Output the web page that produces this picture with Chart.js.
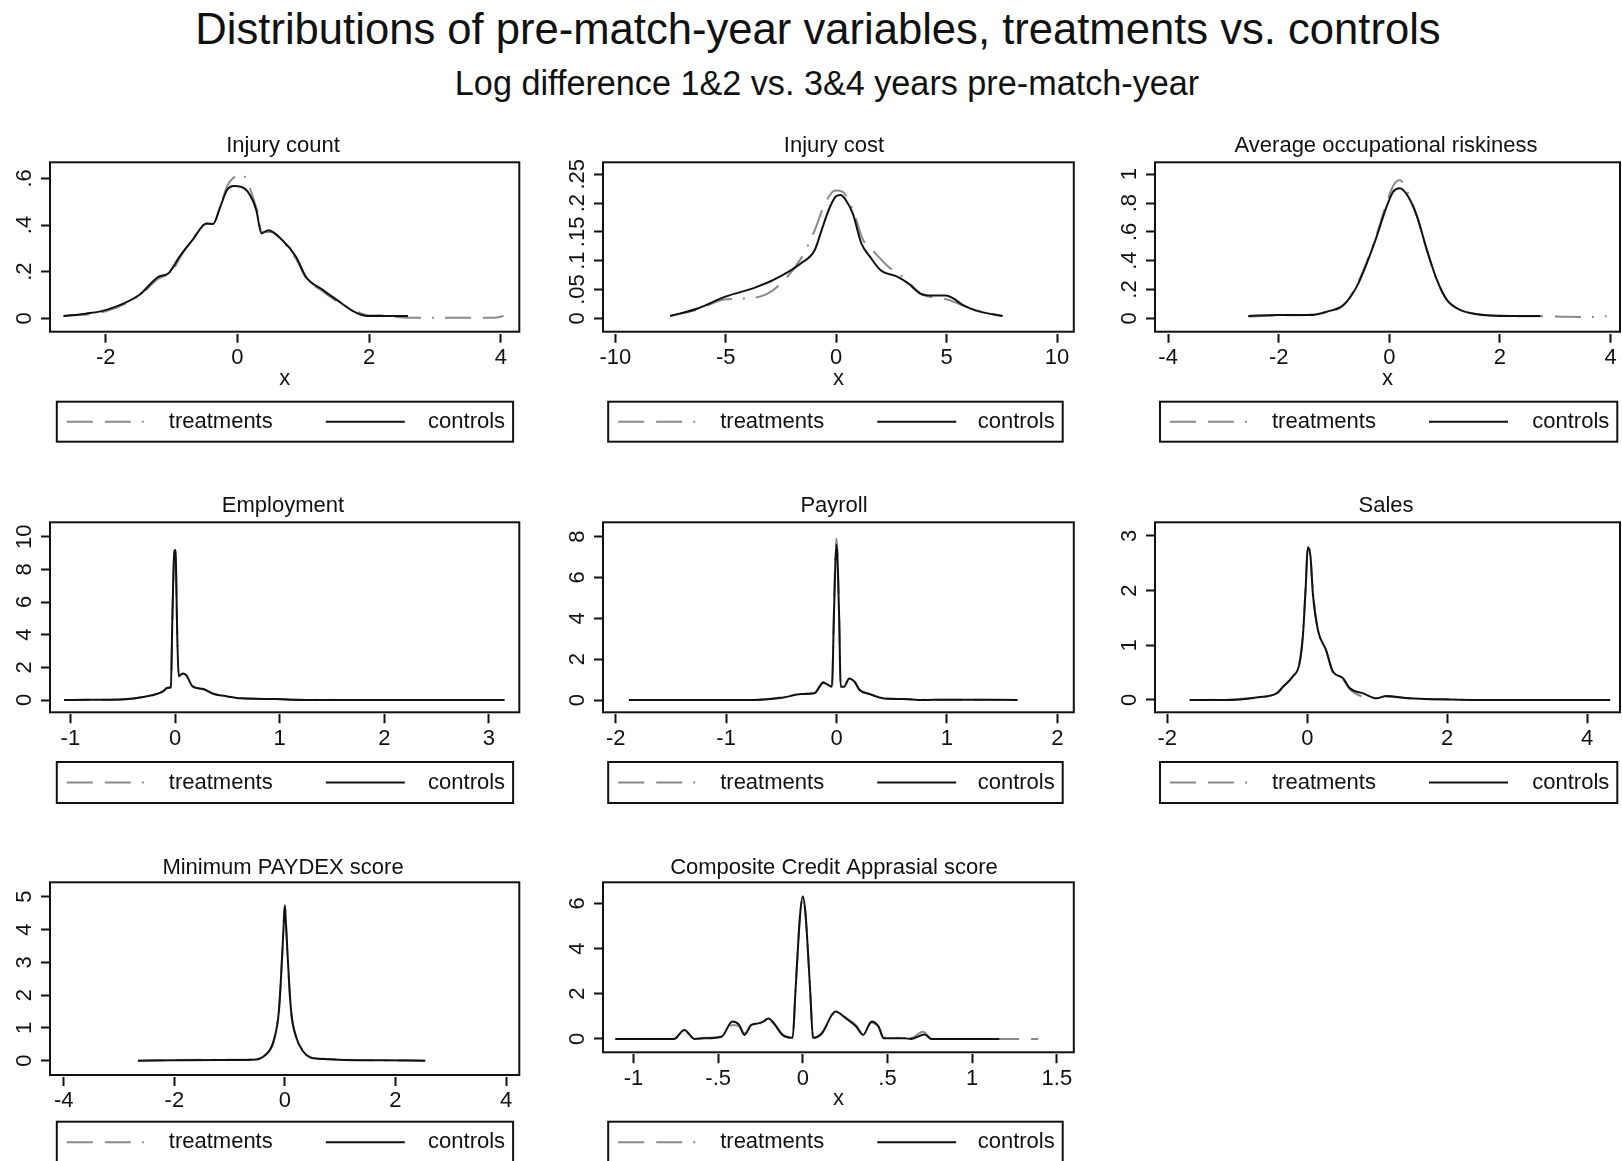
<!DOCTYPE html>
<html>
<head>
<meta charset="utf-8">
<script src="https://cdn.jsdelivr.net/npm/chart.js@4.4.1/dist/chart.umd.min.js"></script>
<style>
  body { margin: 0; background: #fff; width: 1622px; height: 1161px; overflow: hidden; position: relative;
         font-family: "Liberation Sans", Arial, sans-serif; color: #111; }
  canvas { position: absolute; }
  .head { position: absolute; width: 1600px; text-align: center; white-space: nowrap; }
  #title { left: 18px; top: 8px; font-size: 43.6px; line-height: 43.6px; }
  #subtitle { left: 27px; top: 66px; font-size: 34.2px; line-height: 34.2px; }
</style>
</head>
<body>
<div id="title" class="head">Distributions of pre-match-year variables, treatments vs. controls</div>
<div id="subtitle" class="head">Log difference 1&amp;2 vs. 3&amp;4 years pre-match-year</div>
<canvas id="p1"></canvas><canvas id="p2"></canvas><canvas id="p3"></canvas>
<canvas id="p4"></canvas><canvas id="p5"></canvas><canvas id="p6"></canvas>
<canvas id="p7"></canvas><canvas id="p8"></canvas>
<script>
  // ---- densities ----
  // Injury count
  const cntCtlX = [-2.64,-2.3,-1.99,-1.49,-1.2,-1.045,-0.88,-0.68,-0.47,-0.37,-0.26,-0.157,-0.052,0.052,0.157,0.287,0.365,0.47,0.68,0.89,1.04,1.3,1.51,1.77,1.98,2.59];
  const cntCtlY = [0.01,0.02,0.036,0.1,0.178,0.193,0.264,0.336,0.407,0.404,0.478,0.55,0.567,0.564,0.543,0.464,0.364,0.378,0.336,0.264,0.178,0.121,0.079,0.029,0.01,0.01];
  const cntTrtX = [-2.64,-2.0,-1.5,-1.2,-1.0,-0.85,-0.68,-0.47,-0.37,-0.25,-0.15,-0.05,0.05,0.13,0.2,0.3,0.37,0.5,0.7,0.9,1.05,1.3,1.5,1.8,2.0,2.14,2.6,3.0,3.5,3.9,4.04];
  const cntTrtY = [0.01,0.03,0.095,0.17,0.2,0.27,0.34,0.405,0.405,0.49,0.57,0.605,0.62,0.6,0.55,0.46,0.37,0.37,0.325,0.25,0.17,0.115,0.075,0.03,0.012,0.013,0.002,0.002,0.002,0.002,0.01];
  // Injury cost
  const costCtlX = [-7.52,-6.27,-5.02,-3.77,-2.84,-1.59,-0.97,-0.66,-0.34,-0.03,0.2,0.44,0.75,1.14,1.53,2.0,2.78,3.25,3.87,4.34,4.96,5.28,5.74,6.52,7.54];
  const costCtlY = [0.004,0.017,0.0375,0.052,0.0665,0.0955,0.1186,0.153,0.188,0.211,0.214,0.205,0.182,0.13,0.107,0.084,0.072,0.061,0.0417,0.0394,0.0394,0.035,0.023,0.0115,0.004];
  const costTrtX = [-7.5,-6.3,-5.0,-4.24,-3.15,-2.52,-1.59,-0.97,-0.5,-0.03,0.28,0.75,1.22,1.6,2.38,3.1,3.87,4.5,5.0,5.5,6.5,7.5];
  const costTrtY = [0.004,0.015,0.033,0.034,0.042,0.06,0.104,0.153,0.2,0.222,0.22,0.188,0.136,0.12,0.089,0.069,0.042,0.036,0.033,0.026,0.012,0.004];
  // Average occupational riskiness
  const riskCtlX = [-2.55,-2.04,-1.43,-1.13,-0.83,-0.59,-0.41,-0.23,-0.05,0.07,0.19,0.34,0.5,0.68,0.86,1.04,1.28,1.58,2.18,2.73];
  const riskCtlY = [0.016,0.023,0.023,0.046,0.092,0.22,0.38,0.567,0.775,0.88,0.903,0.845,0.706,0.474,0.266,0.127,0.058,0.028,0.016,0.016];
  const riskTrtX = [-2.55,-2.04,-1.43,-1.13,-0.83,-0.59,-0.41,-0.23,-0.05,0.07,0.19,0.3,0.5,0.68,0.86,1.04,1.28,1.58,2.18,2.73,3.2,3.6,3.93];
  const riskTrtY = [0.012,0.02,0.025,0.045,0.09,0.23,0.39,0.58,0.8,0.92,0.96,0.9,0.71,0.47,0.26,0.13,0.06,0.03,0.015,0.015,0.01,0.008,0.015];
  // Employment
  const empCtlX = [-1.06,-0.8,-0.52,-0.29,-0.12,-0.07,-0.04,-0.025,-0.008,0,0.008,0.02,0.035,0.073,0.106,0.17,0.27,0.37,0.5,0.63,0.96,1.1,1.62,2.5,3.15];
  const empCtlY = [0,0.01,0.03,0.2,0.51,0.75,0.78,5.2,9.0,9.18,8.6,4.2,1.45,1.63,1.53,0.82,0.67,0.37,0.22,0.1,0.06,0.02,0,0,0];
  const empTrtX = [-1.06,-0.8,-0.52,-0.29,-0.12,-0.07,-0.04,-0.025,-0.008,0,0.008,0.02,0.035,0.073,0.106,0.17,0.27,0.37,0.5,0.63,0.96,1.1,1.75];
  const empTrtY = [0,0.01,0.03,0.19,0.5,0.74,0.8,5.0,8.9,9.1,8.5,4.4,1.5,1.6,1.5,0.85,0.65,0.38,0.2,0.1,0.05,0.03,0];
  // Payroll
  const payCtlX = [-1.88,-1.2,-0.79,-0.48,-0.32,-0.2,-0.119,-0.072,-0.041,-0.025,-0.01,0,0.01,0.025,0.037,0.068,0.115,0.162,0.209,0.3,0.43,0.61,0.78,1.0,1.64];
  const payCtlY = [0,0,0,0.13,0.29,0.33,0.85,0.73,0.65,3.8,6.8,7.6,6.8,3.8,0.65,0.65,1.06,0.9,0.49,0.29,0.08,0.05,0,0.02,0];
  const payTrtX = payCtlX;
  const payTrtY = [0,0,0.01,0.14,0.3,0.35,0.9,0.75,0.6,4.0,7.1,7.9,7.0,3.9,0.7,0.7,1.1,0.95,0.5,0.3,0.1,0.05,0.02,0.02,0];
  // Sales
  const salesCtlX = [-1.68,-1.08,-0.7,-0.44,-0.35,-0.206,-0.11,-0.063,-0.024,0.009,0.047,0.08,0.152,0.27,0.367,0.51,0.605,0.8,0.99,1.13,1.46,1.94,2.42,3.5,4.33];
  const salesCtlY = [0,0,0.05,0.12,0.24,0.43,0.67,1.16,2.01,2.8,2.62,1.95,1.28,0.91,0.52,0.4,0.22,0.12,0.03,0.073,0.03,0.012,0,0,0];
  const salesTrtX = [-1.68,-1.08,-0.7,-0.44,-0.35,-0.206,-0.11,-0.063,-0.024,0.009,0.047,0.08,0.152,0.27,0.367,0.51,0.605,0.8,0.99,1.13,1.46,1.94,2.44];
  const salesTrtY = [0,0.01,0.05,0.11,0.23,0.44,0.7,1.2,2.05,2.85,2.6,2.0,1.3,0.9,0.5,0.38,0.2,0.06,0.04,0.06,0.03,0.01,0];
  // Minimum PAYDEX score
  const pdxCtlX = [-2.66,-2.0,-1.2,-0.6,-0.355,-0.2,-0.107,-0.045,-0.015,0,0.015,0.05,0.11,0.2,0.33,0.45,0.7,1.08,1.8,2.54];
  const pdxCtlY = [0,0.01,0.02,0.03,0.17,0.63,1.55,3.37,4.4,4.72,4.3,3.17,1.55,0.74,0.28,0.11,0.05,0.02,0.01,0];
  const pdxTrtX = pdxCtlX;
  const pdxTrtY = [0,0.02,0.03,0.04,0.18,0.6,1.6,3.4,4.5,4.75,4.35,3.1,1.5,0.72,0.3,0.1,0.06,0.03,0.01,0];
  // Composite Credit Apprasial score
  const ccaCtlX = [-1.107,-0.9,-0.76,-0.7,-0.64,-0.58,-0.48,-0.416,-0.376,-0.345,-0.305,-0.264,-0.233,-0.203,-0.17,-0.12,-0.06,-0.045,-0.03,-0.015,0,0.015,0.03,0.045,0.06,0.11,0.193,0.254,0.315,0.356,0.406,0.447,0.478,0.6,0.64,0.72,0.76,1.0,1.16];
  const ccaCtlY = [0,0,0,0.4,0,0.03,0.1,0.77,0.62,0.18,0.62,0.69,0.77,0.91,0.69,0.18,0.05,1.9,3.9,5.6,6.3,5.6,3.9,1.9,0.05,0.22,1.21,0.91,0.55,0.18,0.77,0.55,0.03,0.03,0,0.2,0,0,0];
  const ccaTrtX = [-1.107,-0.9,-0.76,-0.7,-0.64,-0.58,-0.48,-0.416,-0.376,-0.345,-0.305,-0.264,-0.233,-0.203,-0.17,-0.12,-0.06,-0.045,-0.03,-0.015,0,0.015,0.03,0.045,0.06,0.11,0.193,0.254,0.315,0.356,0.406,0.447,0.478,0.6,0.64,0.71,0.76,1.0,1.2,1.39];
  const ccaTrtY = [0,0,0,0.36,0,0.05,0.1,0.62,0.55,0.25,0.55,0.66,0.74,0.86,0.66,0.2,0.05,1.9,3.9,5.6,6.2,5.6,3.9,1.9,0.05,0.25,1.15,0.95,0.6,0.2,0.72,0.52,0.05,0.05,0.05,0.32,0,0,0,0];

  // ---- tick values ----
  const cntXTicks = [-2,0,2,4],            cntYTicks = [0,0.2,0.4,0.6];
  const costXTicks = [-10,-5,0,5,10],      costYTicks = [0,0.05,0.1,0.15,0.2,0.25];
  const riskXTicks = [-4,-2,0,2,4],        riskYTicks = [0,0.2,0.4,0.6,0.8,1];
  const empXTicks = [-1,0,1,2,3],          empYTicks = [0,2,4,6,8,10];
  const payXTicks = [-2,-1,0,1,2],         payYTicks = [0,2,4,6,8];
  const salesXTicks = [-2,0,2,4],          salesYTicks = [0,1,2,3];
  const pdxXTicks = [-4,-2,0,2,4],         pdxYTicks = [0,1,2,3,4,5];
  const ccaXTicks = [-1,-0.5,0,0.5,1,1.5], ccaYTicks = [0,2,4,6];

  const INK = '#111';
  const GRAY = '#8a8a8a';
  const FONT = '"Liberation Sans", Arial, sans-serif';
  const DASH = [26, 12, 26, 11, 2, 11];

  // Stata drops the leading zero: 0.6 -> .6, -0.5 -> -.5
  const stata = v => String(+v.toFixed(4)).replace(/^(-?)0\./, '$1.');
  const pts = (xs, ys) => xs.map((x, i) => ({x, y: ys[i]}));

  // page layout of the 3x3 grid
  const cols = [
    {x: 0,    w: 540, box: [50, 519.3],   leg: [56.8, 513.1],  tx: 283},
    {x: 545,  w: 540, box: [603, 1073.8], leg: [608.2, 1062.7], tx: 834},
    {x: 1095, w: 527, box: [1155, 1620],  leg: [1160, 1617.3], tx: 1386}
  ];
  const rows = [
    {y: 125, h: 330, box: [162.3, 331.7], leg: [401.7, 441.7], ty: 146},
    {y: 485, h: 330, box: [522.3, 712.3], leg: [762, 803],     ty: 506},
    {y: 845, h: 316, box: [882.3, 1075],  leg: [1121.7, 1163], ty: 868}
  ];

  const panels = [
    {id: 'p1', name: 'Injury count', col: 0, row: 0, ctl: [cntCtlX, cntCtlY], trt: [cntTrtX, cntTrtY],
     xt: cntXTicks, yt: cntYTicks, xr: [-2.845, 4.28], yr: [-0.0574, 0.669], xTitle: true},
    {id: 'p2', name: 'Injury cost', col: 1, row: 0, ctl: [costCtlX, costCtlY], trt: [costTrtX, costTrtY],
     xt: costXTicks, yt: costYTicks, xr: [-10.56, 10.76], yr: [-0.0233, 0.2708], xTitle: true},
    {id: 'p3', name: 'Average occupational riskiness', col: 2, row: 0, ctl: [riskCtlX, riskCtlY], trt: [riskTrtX, riskTrtY],
     xt: riskXTicks, yt: riskYTicks, xr: [-4.237, 4.17], yr: [-0.093, 1.083], xTitle: true},
    {id: 'p4', name: 'Employment', col: 0, row: 1, ctl: [empCtlX, empCtlY], trt: [empTrtX, empTrtY],
     xt: empXTicks, yt: empYTicks, xr: [-1.195, 3.29], yr: [-0.753, 10.88]},
    {id: 'p5', name: 'Payroll', col: 1, row: 1, ctl: [payCtlX, payCtlY], trt: [payTrtX, payTrtY],
     xt: payXTicks, yt: payYTicks, xr: [-2.115, 2.149], yr: [-0.6, 8.7]},
    {id: 'p6', name: 'Sales', col: 2, row: 1, ctl: [salesCtlX, salesCtlY], trt: [salesTrtX, salesTrtY],
     xt: salesXTicks, yt: salesYTicks, xr: [-2.176, 4.47], yr: [-0.225, 3.25]},
    {id: 'p7', name: 'Minimum PAYDEX score', col: 0, row: 2, ctl: [pdxCtlX, pdxCtlY], trt: [pdxTrtX, pdxTrtY],
     xt: pdxXTicks, yt: pdxYTicks, xr: [-4.25, 4.24], yr: [-0.436, 5.44]},
    {id: 'p8', name: 'Composite Credit Apprasial score', col: 1, row: 2, ctl: [ccaCtlX, ccaCtlY], trt: [ccaTrtX, ccaTrtY],
     xt: ccaXTicks, yt: ccaYTicks, xr: [-1.18, 1.6], yr: [-0.59, 6.93], xTitle: true, bottom: 1052.3}
  ];

  // box, rotated y labels, panel title and legend the way Stata draws them
  const frame = {
    id: 'frame',
    afterDraw(chart, args, o) {
      const {ctx, chartArea: a} = chart;
      const y = chart.scales.y;
      ctx.save();
      ctx.strokeStyle = INK;
      ctx.lineWidth = 2;
      ctx.strokeRect(a.left, a.top, a.right - a.left, a.bottom - a.top);

      ctx.fillStyle = INK;
      ctx.font = '22px ' + FONT;
      ctx.textAlign = 'center';
      ctx.textBaseline = 'middle';
      o.yTicks.forEach(v => {
        ctx.save();
        ctx.translate(a.left - 25, y.getPixelForValue(v));
        ctx.rotate(-Math.PI / 2);
        ctx.fillText(stata(v), 0, 0);
        ctx.restore();
      });
      ctx.fillText(o.title, o.titleX, o.titleY);

      const L = o.legend;
      ctx.strokeRect(L.x1, L.y1, L.x2 - L.x1, L.y2 - L.y1);
      const cy = (L.y1 + L.y2) / 2;
      const [trt, ctl] = chart.data.datasets;
      ctx.beginPath();
      ctx.setLineDash(trt.borderDash);
      ctx.strokeStyle = trt.borderColor;
      ctx.moveTo(L.x1 + 10, cy); ctx.lineTo(L.x1 + 87, cy);
      ctx.stroke();
      ctx.beginPath();
      ctx.setLineDash([]);
      ctx.strokeStyle = ctl.borderColor;
      ctx.moveTo(L.x1 + 269, cy); ctx.lineTo(L.x1 + 348, cy);
      ctx.stroke();
      ctx.textAlign = 'left';
      ctx.fillText(trt.label, L.x1 + 112, cy);
      ctx.textAlign = 'right';
      ctx.fillText(ctl.label, L.x2 - 8, cy);
      ctx.restore();
    }
  };

  const Y_W = 9, X_H = 60;

  panels.forEach(p => {
    const c = cols[p.col], r = rows[p.row];
    const bl = c.box[0], br = c.box[1], bt = r.box[0], bb = p.bottom || r.box[1];
    const cv = document.getElementById(p.id);
    cv.width = c.w;
    cv.height = r.h;
    cv.style.left = c.x + 'px';
    cv.style.top = r.y + 'px';

    new Chart(cv, {
      type: 'line',
      data: {
        datasets: [
          {label: 'treatments', data: pts(...p.trt), borderColor: GRAY, borderWidth: 2, borderDash: DASH,
           pointRadius: 0, cubicInterpolationMode: 'monotone', order: 1},
          {label: 'controls', data: pts(...p.ctl), borderColor: INK, borderWidth: 2,
           pointRadius: 0, cubicInterpolationMode: 'monotone', order: 0}
        ]
      },
      options: {
        responsive: false,
        animation: false,
        events: [],
        layout: {padding: {left: bl - c.x - Y_W, top: bt - r.y, right: c.x + c.w - br, bottom: r.y + r.h - bb - X_H}},
        plugins: {
          legend: {display: false},
          tooltip: {enabled: false},
          frame: {
            yTicks: p.yt,
            title: p.name, titleX: c.tx - c.x, titleY: r.ty - r.y,
            legend: {x1: c.leg[0] - c.x, x2: c.leg[1] - c.x, y1: r.leg[0] - r.y, y2: r.leg[1] - r.y}
          }
        },
        scales: {
          x: {
            type: 'linear', min: p.xr[0], max: p.xr[1],
            afterBuildTicks: s => { s.ticks = p.xt.map(v => ({value: v})); },
            afterFit: s => { s.height = X_H; },
            border: {display: false},
            grid: {drawOnChartArea: false, tickLength: 11, tickWidth: 2, tickColor: INK, tickBorderDash: [0, 2, 20]},
            ticks: {callback: v => stata(v), font: {size: 22, family: FONT}, color: INK, padding: 2, maxRotation: 0, autoSkip: false},
            title: {display: !!p.xTitle, text: 'x', font: {size: 22, family: FONT}, color: INK, padding: 0}
          },
          y: {
            type: 'linear', min: p.yr[0], max: p.yr[1],
            afterBuildTicks: s => { s.ticks = p.yt.map(v => ({value: v})); },
            afterFit: s => { s.width = Y_W; },
            border: {display: false},
            grid: {drawOnChartArea: false, tickLength: Y_W, tickWidth: 2, tickColor: INK},
            ticks: {display: false}
          }
        }
      },
      plugins: [frame]
    });
  });
</script>
</body>
</html>
